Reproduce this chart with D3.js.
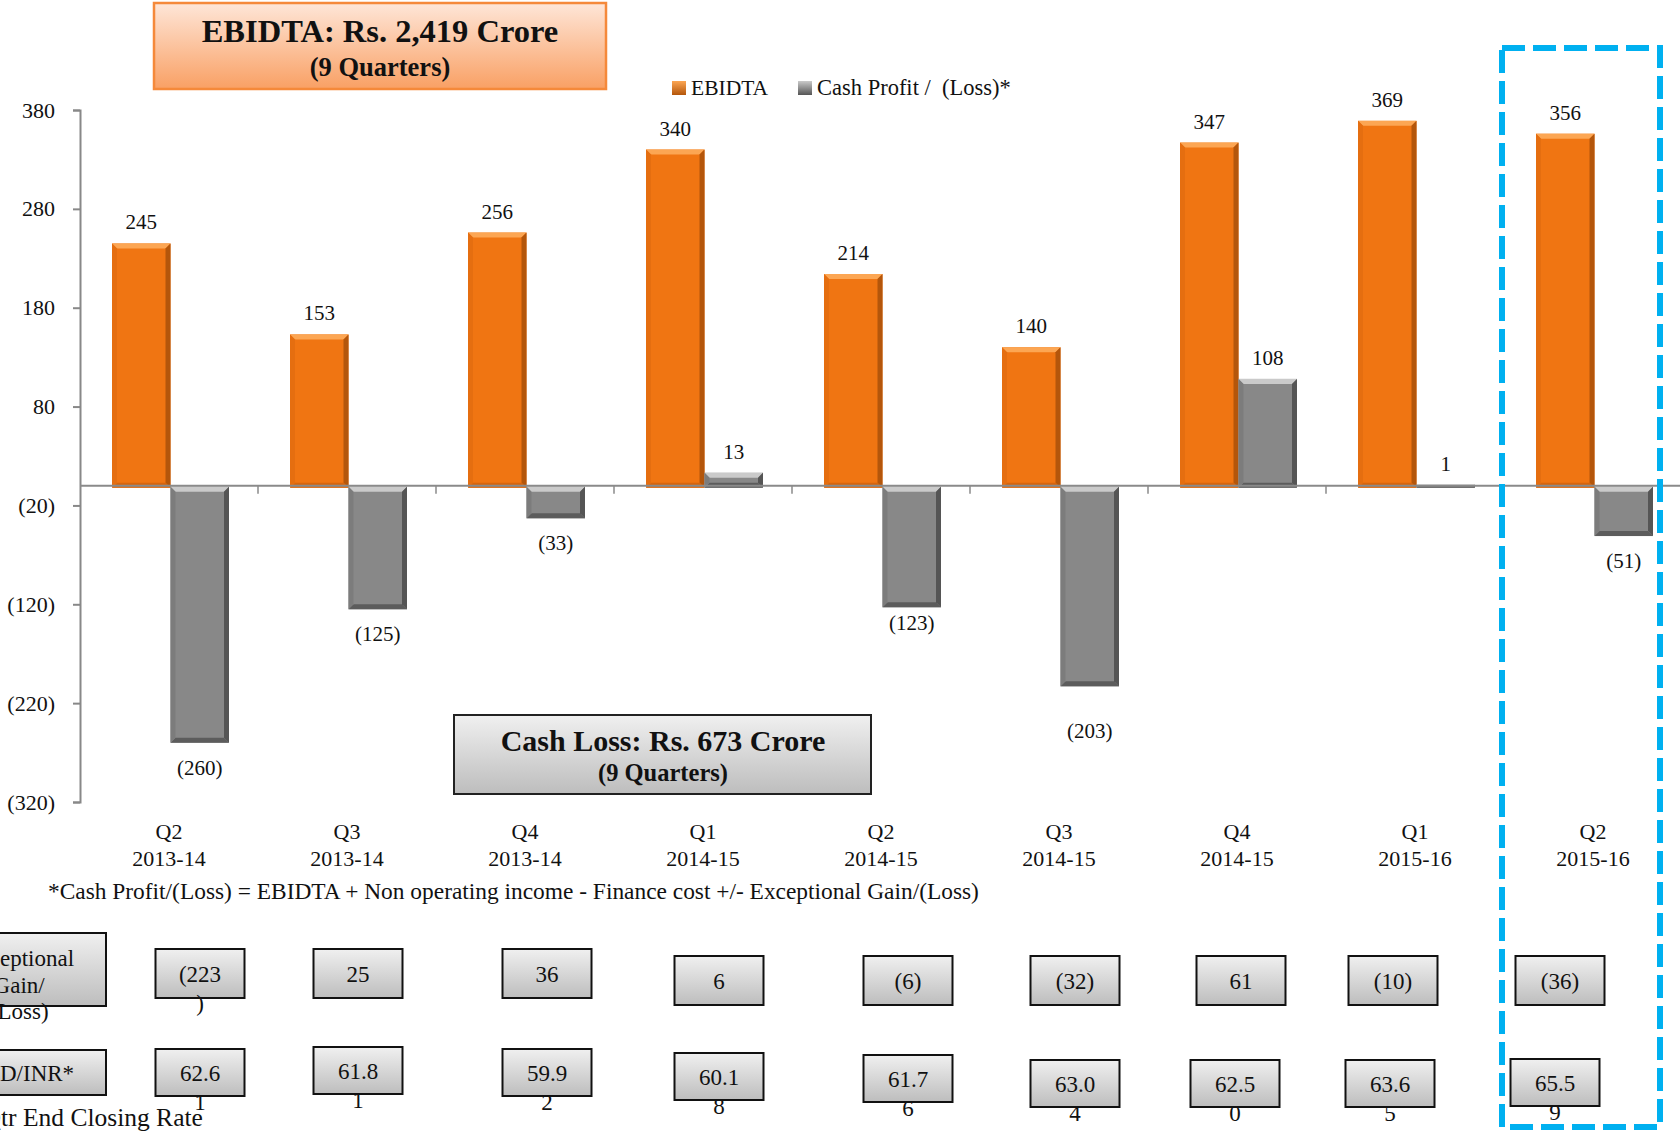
<!DOCTYPE html>
<html>
<head>
<meta charset="utf-8">
<script src="https://cdn.jsdelivr.net/npm/d3@7/dist/d3.min.js"></script>
<style>
  html, body { margin: 0; padding: 0; background: #fff; overflow: hidden; }
  svg { display: block; font-family: "Liberation Serif", "Times New Roman", serif; }
</style>
</head>
<body>
<svg id="chart" width="1680" height="1131"></svg>
<script>
// ---- data ----
const quarters = ["Q2", "Q3", "Q4", "Q1", "Q2", "Q3", "Q4", "Q1", "Q2"];
const fiscalYears = ["2013-14", "2013-14", "2013-14", "2014-15", "2014-15", "2014-15", "2014-15", "2015-16", "2015-16"];
const ebidta = [245, 153, 256, 340, 214, 140, 347, 369, 356];
const cashProfit = [-260, -125, -33, 13, -123, -203, 108, 1, -51];
const yTickValues = [380, 280, 180, 80, -20, -120, -220, -320];
const exceptionalGain = [-223, 25, 36, 6, -6, -32, 61, -10, -36];
const usdInrRate = ["62.61", "61.81", "59.92", "60.18", "61.76", "63.04", "62.50", "63.65", "65.59"];

// ---- layout ----
const W = 1680, H = 1131;
const plot = { left: 80, top: 110, bottom: 802 };
const svg = d3.select("#chart");
const defs = svg.append("defs");

const fmt = v => v < 0 ? "(" + Math.abs(v) + ")" : String(v);

const x = d3.scaleBand().domain(d3.range(quarters.length)).range([80, 1682]).padding(0);
const sub = d3.scaleBand().domain(["ebidta", "cash"]).range([0, 117]).padding(0);
const y = d3.scaleLinear().domain([-320, 380]).range([plot.bottom, plot.top]);
const barX = (i, key) => x(i) + x.bandwidth() / 2 - 57 + sub(key);

// palettes for bevelled bars
const orange = { main: "#F07512", light: "#FCA653", dark: "#B4560B", bottom: "#D6650D", left: "#E56E10" };
const grey = { main: "#888888", light: "#CACACA", dark: "#555555", bottom: "#5C5C5C", left: "#7C7C7C" };

function bevelBar(g, x0, x1, y0, y1, pal) {
  const b = Math.max(0, Math.min(5, (y1 - y0) / 2, (x1 - x0) / 2));
  g.append("rect").attr("x", x0).attr("y", y0).attr("width", x1 - x0).attr("height", Math.max(0, y1 - y0)).attr("fill", pal.main);
  const poly = (pts, fill) => g.append("polygon").attr("points", pts.map(p => p.join(",")).join(" ")).attr("fill", fill);
  if (b > 0) {
    poly([[x0, y0], [x1, y0], [x1 - b, y0 + b], [x0 + b, y0 + b]], pal.light);
    poly([[x1, y0], [x1, y1], [x1 - b, y1 - b], [x1 - b, y0 + b]], pal.dark);
    poly([[x0, y1], [x1, y1], [x1 - b, y1 - b], [x0 + b, y1 - b]], pal.bottom);
    poly([[x0, y0], [x0 + b, y0 + b], [x0 + b, y1 - b], [x0, y1]], pal.left);
  }
}

// ---- y axis ----
const yAxis = d3.axisLeft(y).tickValues(yTickValues).tickSize(7).tickPadding(18).tickFormat(fmt);
const yg = svg.append("g").attr("transform", `translate(${plot.left},0)`).call(yAxis);
yg.select(".domain").attr("stroke", "#888").attr("stroke-width", 2);
yg.selectAll(".tick line").attr("stroke", "#888").attr("stroke-width", 2);
yg.selectAll(".tick text").attr("font-size", 22).attr("fill", "#111").attr("font-family", "Liberation Serif, serif");

// ---- bars ----
const bars = svg.append("g");
ebidta.forEach((v, i) => {
  const g = bars.append("g");
  bevelBar(g, barX(i, "ebidta"), barX(i, "ebidta") + sub.bandwidth(), y(v), y(0) + 2, orange);
});
cashProfit.forEach((v, i) => {
  const g = bars.append("g");
  const x0 = barX(i, "cash"), x1 = x0 + sub.bandwidth();
  if (v >= 0) bevelBar(g, x0, x1, y(v), y(0) + 2, grey);
  else bevelBar(g, x0, x1, y(0) + 1, y(v), grey);
});

// zero line with category separators
svg.append("line").attr("x1", plot.left).attr("x2", W).attr("y1", y(0)).attr("y2", y(0))
  .attr("stroke", "#8a8a8a").attr("stroke-width", 2);
svg.append("g").selectAll("line").data(d3.range(1, quarters.length)).join("line")
  .attr("x1", i => x(i)).attr("x2", i => x(i))
  .attr("y1", y(0)).attr("y2", y(0) + 8)
  .attr("stroke", "#8a8a8a").attr("stroke-width", 1.5);

// value labels (a few loss labels sit at their own offsets)
const cashLabelShift = [0, 0, 0, 0, -9, 20, 0, 0, 0];
const labels = svg.append("g").attr("font-size", 21).attr("fill", "#111").attr("text-anchor", "middle");
ebidta.forEach((v, i) => {
  labels.append("text").attr("x", barX(i, "ebidta") + sub.bandwidth() / 2).attr("y", y(v) - 14).text(fmt(v));
});
cashProfit.forEach((v, i) => {
  const cx = barX(i, "cash") + sub.bandwidth() / 2;
  labels.append("text").attr("x", cx).attr("y", (v >= 0 ? y(v) - 14 : y(v) + 32) + cashLabelShift[i]).text(fmt(v));
});

// category labels
const cats = svg.append("g").attr("font-size", 22).attr("fill", "#111").attr("text-anchor", "middle");
quarters.forEach((q, i) => {
  const cx = x(i) + x.bandwidth() / 2;
  cats.append("text").attr("x", cx).attr("y", 839).text(q);
  cats.append("text").attr("x", cx).attr("y", 866).text(fiscalYears[i]);
});

// footnote
svg.append("text").attr("x", 48).attr("y", 899).attr("font-size", 23.4).attr("fill", "#111")
  .text("*Cash Profit/(Loss) = EBIDTA + Non operating income - Finance cost +/- Exceptional Gain/(Loss)");

// ---- legend ----
function legendSwatch(xp, yp, pal, id) {
  const gr = defs.append("linearGradient").attr("id", id).attr("x1", 0).attr("y1", 0).attr("x2", 0).attr("y2", 1);
  gr.append("stop").attr("offset", 0).attr("stop-color", pal.light);
  gr.append("stop").attr("offset", 1).attr("stop-color", pal.dark);
  svg.append("rect").attr("x", xp).attr("y", yp).attr("width", 14).attr("height", 14).attr("fill", `url(#${id})`);
}
legendSwatch(672, 81, orange, "lgO");
legendSwatch(798, 81, grey, "lgG");
svg.append("text").attr("x", 691).attr("y", 95).attr("font-size", 21.5).attr("fill", "#111").text("EBIDTA");
svg.append("text").attr("x", 817).attr("y", 95).attr("font-size", 22.5).attr("fill", "#111")
  .attr("xml:space", "preserve").text("Cash Profit /  (Loss)*");

// ---- headline boxes ----
const gO = defs.append("linearGradient").attr("id", "boxO").attr("x1", 0).attr("y1", 0).attr("x2", 0).attr("y2", 1);
gO.append("stop").attr("offset", 0).attr("stop-color", "#FEE6D8");
gO.append("stop").attr("offset", 1).attr("stop-color", "#F9A064");
svg.append("rect").attr("x", 154).attr("y", 3).attr("width", 452).attr("height", 86)
  .attr("fill", "url(#boxO)").attr("stroke", "#F5893A").attr("stroke-width", 2.5);
svg.append("text").attr("x", 380).attr("y", 42).attr("text-anchor", "middle").attr("font-size", 32.5)
  .attr("font-weight", "bold").attr("fill", "#111").text("EBIDTA: Rs. 2,419 Crore");
svg.append("text").attr("x", 380).attr("y", 76).attr("text-anchor", "middle").attr("font-size", 26.5)
  .attr("font-weight", "bold").attr("fill", "#111").text("(9 Quarters)");

const gG = defs.append("linearGradient").attr("id", "boxG").attr("x1", 0).attr("y1", 0).attr("x2", 0).attr("y2", 1);
gG.append("stop").attr("offset", 0).attr("stop-color", "#F0F0F0");
gG.append("stop").attr("offset", 1).attr("stop-color", "#BDBDBD");
svg.append("rect").attr("x", 454).attr("y", 715).attr("width", 417).attr("height", 79)
  .attr("fill", "url(#boxG)").attr("stroke", "#222").attr("stroke-width", 2);
svg.append("text").attr("x", 663).attr("y", 751).attr("text-anchor", "middle").attr("font-size", 30)
  .attr("font-weight", "bold").attr("fill", "#111").text("Cash Loss: Rs. 673 Crore");
svg.append("text").attr("x", 663).attr("y", 781).attr("text-anchor", "middle").attr("font-size", 24.5)
  .attr("font-weight", "bold").attr("fill", "#111").text("(9 Quarters)");

// ---- table of exceptional items and exchange rates ----
const tblFont = 23;
const tbl = svg.append("g").attr("font-size", tblFont).attr("fill", "#111");
const colNudge = [31, 11, 22, 16, 27, 16, 4, -22, -33];      // horizontal placement of each column's boxes
const colNudge2 = [31, 11, 22, 16, 27, 16, -2, -25, -38];
const row1Top = [949, 949, 949, 956, 956, 956, 956, 956, 956];
const row2Top = [1049, 1047, 1049, 1053, 1055, 1060, 1060, 1060, 1059];
const boxW = 89, boxH = 49, boxH2 = 47;

const measure = svg.append("text").attr("visibility", "hidden");
const textW = (s, size = tblFont) => { measure.attr("font-size", size).text(s); return measure.node().getComputedTextLength(); };
function wrapChars(str, maxW) {
  const lines = []; let cur = "";
  for (const ch of str) {
    if (cur && textW(cur + ch) > maxW) { lines.push(cur); cur = ch; }
    else cur += ch;
  }
  if (cur) lines.push(cur);
  return lines;
}
function tableBox(cx, top, h, str) {
  tbl.append("rect").attr("x", cx - boxW / 2).attr("y", top).attr("width", boxW).attr("height", h)
    .attr("fill", "url(#boxG)").attr("stroke", "#111").attr("stroke-width", 2);
  wrapChars(str, 45).forEach((ln, k) => {
    tbl.append("text").attr("x", cx).attr("y", top + h / 2 + 8 + k * 29).attr("text-anchor", "middle").text(ln);
  });
}
exceptionalGain.forEach((v, i) => tableBox(x(i) + x.bandwidth() / 2 + colNudge[i], row1Top[i], boxH, fmt(v)));
usdInrRate.forEach((v, i) => tableBox(x(i) + x.bandwidth() / 2 + colNudge2[i], row2Top[i], boxH2, v));

// row headers (their boxes run off the left edge of the page)
tbl.append("rect").attr("x", -52).attr("y", 933).attr("width", 158).attr("height", 73)
  .attr("fill", "url(#boxG)").attr("stroke", "#111").attr("stroke-width", 2);
const hdrCenter = -textW("Exc") + textW("Exceptional") / 2;
["Exceptional", "Gain/", "(Loss)"].forEach((t, k) => {
  tbl.append("text").attr("x", hdrCenter).attr("y", 966 + k * 26.5).attr("text-anchor", "middle").text(t);
});
tbl.append("rect").attr("x", -52).attr("y", 1050).attr("width", 158).attr("height", 45)
  .attr("fill", "url(#boxG)").attr("stroke", "#111").attr("stroke-width", 2);
tbl.append("text").attr("x", -textW("US")).attr("y", 1081).text("USD/INR*");
const noteSize = 25.5;
tbl.append("text").attr("x", -textW("*Q", noteSize) + 1).attr("y", 1126).attr("font-size", noteSize).text("*Qtr End Closing Rate");

// ---- highlight of the latest quarter ----
svg.append("rect").attr("x", 1502).attr("y", 48).attr("width", 158).attr("height", 1079)
  .attr("fill", "none").attr("stroke", "#00B0F0").attr("stroke-width", 6)
  .attr("stroke-dasharray", "23 8");
</script>
</body>
</html>
